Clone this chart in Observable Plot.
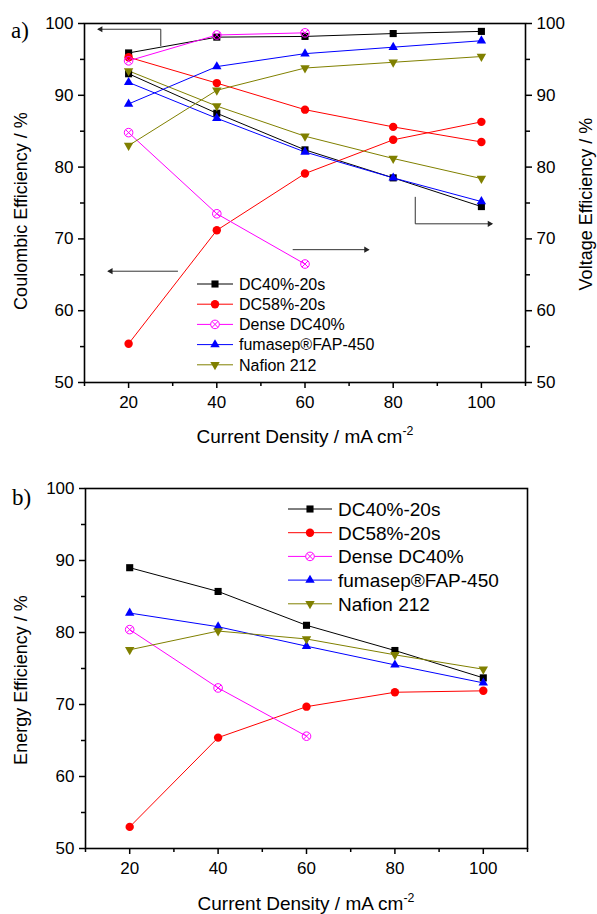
<!DOCTYPE html>
<html><head><meta charset="utf-8">
<script src="https://cdn.jsdelivr.net/npm/d3@7"></script>
<script src="https://cdn.jsdelivr.net/npm/@observablehq/plot@0.6"></script>
<style>
body{margin:0;background:#fff;width:597px;}
#a,#b{width:597px;}
svg{display:block;}
</style></head><body><div id="a"></div><div id="b"></div>
<script>
// ---------------- data ----------------
const currentDensity = [20, 40, 60, 80, 100];
const currentDensityDense = [20, 40, 60];
const seriesNames = ["DC40%-20s", "DC58%-20s", "Dense DC40%", "fumasep®FAP-450", "Nafion 212"];

// Coulombic efficiency (%), left axis of panel a
const ceDC40 = [95.9, 98.1, 98.2, 98.6, 98.9];
const ceDC58 = [55.4, 71.2, 79.1, 83.8, 86.3];
const ceDense = [94.8, 98.4, 98.7];
const ceFAP = [88.8, 94.0, 95.8, 96.7, 97.6];
const ceNafion = [83.0, 90.7, 93.8, 94.6, 95.4];

// Voltage efficiency (%), right axis of panel a
const veDC40 = [93.0, 87.5, 82.4, 78.5, 74.5];
const veDC58 = [95.3, 91.7, 88.0, 85.6, 83.5];
const veDense = [84.8, 73.5, 66.5];
const veFAP = [91.8, 86.8, 82.1, 78.5, 75.2];
const veNafion = [93.4, 88.5, 84.3, 81.2, 78.4];

// Energy efficiency (%), panel b
const eeDC40 = [89.0, 85.7, 81.0, 77.5, 73.7];
const eeDC58 = [53.0, 65.4, 69.7, 71.7, 71.9];
const eeDense = [80.4, 72.3, 65.6];
const eeFAP = [82.7, 80.8, 78.1, 75.5, 73.0];
const eeNafion = [77.6, 80.2, 79.1, 76.9, 74.9];

// tick values
const xMajorTicks = [20, 40, 60, 80, 100];
const xMinorTicks = [10, 30, 50, 70, 90, 110];
const yMajorTicks = [50, 60, 70, 80, 90, 100];
const yMinorTicks = [55, 65, 75, 85, 95];

// annotation arrows of panel a (data units; last point is the arrow tip)
const arrowToCE = [[27.3, 96.9], [27.3, 99.2], [13.2, 99.2]];
const arrowToCE2 = [[31.1, 65.5], [15.5, 65.5]];
const arrowToVE = [[57.3, 68.5], [74.3, 68.5]];
const arrowToVE2 = [[85, 75.8], [85, 72.1], [102.3, 72.1]];

// ---------------- styles ----------------
const styles = {
  "DC40%-20s": {color: "#000000", symbol: "square", r: 4, rotate: 0},
  "DC58%-20s": {color: "#ff0000", symbol: "circle", r: 4.2, rotate: 0},
  "Dense DC40%": {color: "#ff00ff", symbol: "crossed", r: 4.3, rotate: 0},
  "fumasep®FAP-450": {color: "#0000ff", symbol: "triangle", r: 3.5, rotate: 0},
  "Nafion 212": {color: "#808000", symbol: "triangle", r: 3.5, rotate: 180}
};
const FONT = "'Liberation Sans', Arial, Helvetica, sans-serif";

function rows(name, kind, xs, ys) {
  return ys.map((y, i) => ({x: xs[i], y, series: name, kind}));
}
const xsOf = name => name === "Dense DC40%" ? currentDensityDense : currentDensity;

const panelA = [
  ...rows(seriesNames[0], "CE", xsOf(seriesNames[0]), ceDC40),
  ...rows(seriesNames[0], "VE", xsOf(seriesNames[0]), veDC40),
  ...rows(seriesNames[1], "CE", xsOf(seriesNames[1]), ceDC58),
  ...rows(seriesNames[1], "VE", xsOf(seriesNames[1]), veDC58),
  ...rows(seriesNames[2], "CE", xsOf(seriesNames[2]), ceDense),
  ...rows(seriesNames[2], "VE", xsOf(seriesNames[2]), veDense),
  ...rows(seriesNames[3], "CE", xsOf(seriesNames[3]), ceFAP),
  ...rows(seriesNames[3], "VE", xsOf(seriesNames[3]), veFAP),
  ...rows(seriesNames[4], "CE", xsOf(seriesNames[4]), ceNafion),
  ...rows(seriesNames[4], "VE", xsOf(seriesNames[4]), veNafion)
];
const panelB = [
  ...rows(seriesNames[0], "EE", xsOf(seriesNames[0]), eeDC40),
  ...rows(seriesNames[1], "EE", xsOf(seriesNames[1]), eeDC58),
  ...rows(seriesNames[2], "EE", xsOf(seriesNames[2]), eeDense),
  ...rows(seriesNames[3], "EE", xsOf(seriesNames[3]), eeFAP),
  ...rows(seriesNames[4], "EE", xsOf(seriesNames[4]), eeNafion)
];

function seriesMarks(data) {
  const marks = [];
  for (const name of seriesNames) {
    const s = styles[name];
    const d = data.filter(r => r.series === name);
    marks.push(Plot.line(d, {x: "x", y: "y", z: "kind", stroke: s.color, strokeWidth: 1}));
  }
  for (const name of seriesNames) {
    const s = styles[name];
    const d = data.filter(r => r.series === name);
    if (s.symbol === "crossed") {
      marks.push(Plot.dot(d, {x: "x", y: "y", symbol: "circle", r: s.r, stroke: s.color, fill: "none", strokeWidth: 1}));
      marks.push(Plot.dot(d, {x: "x", y: "y", symbol: "times", r: 2.9, stroke: s.color, strokeWidth: 1}));
    } else {
      marks.push(Plot.dot(d, {x: "x", y: "y", symbol: s.symbol, r: s.r, fill: s.color, stroke: "none", rotate: s.rotate}));
    }
  }
  return marks;
}

function arrowMarks(paths) {
  const marks = [];
  paths.forEach((p, k) => {
    const pts = p.map(([x, y]) => ({x, y, k}));
    marks.push(Plot.line(pts, {x: "x", y: "y", stroke: "#333", strokeWidth: 1}));
    const [a, b] = [p[p.length - 2], p[p.length - 1]];
    const dir = b[0] > a[0] ? 90 : -90;
    marks.push(Plot.dot([{x: b[0], y: b[1]}], {x: "x", y: "y", symbol: "triangle", r: 2.3, fill: "#222", rotate: dir, dx: dir > 0 ? -2 : 2}));
  });
  return marks;
}

function axes(rightAxis) {
  const common = {label: null, fontSize: 17, strokeWidth: 1.5};
  const m = [
    Plot.axisX({ticks: xMajorTicks, tickSize: 6, tickPadding: 7, ...common}),
    Plot.axisX({ticks: xMinorTicks, tickSize: 4, tickFormat: () => "", ...common}),
    Plot.axisY({anchor: "left", ticks: yMajorTicks, tickSize: 6, tickPadding: 5, ...common}),
    Plot.axisY({anchor: "left", ticks: yMinorTicks, tickSize: 4, tickFormat: () => "", ...common})
  ];
  if (rightAxis) {
    m.push(Plot.axisY({anchor: "right", ticks: yMajorTicks, tickSize: 6, tickPadding: 5, ...common}));
    m.push(Plot.axisY({anchor: "right", ticks: yMinorTicks, tickSize: 4, tickFormat: () => "", ...common}));
  }
  return m;
}

function legend(svg, x0, y0, step, lineLen, fontSize) {
  const g = svg.append("g").attr("font-family", FONT).attr("font-size", fontSize).attr("text-anchor", "start");
  seriesNames.forEach((name, i) => {
    const s = styles[name];
    const y = y0 + i * step;
    g.append("line").attr("x1", x0).attr("x2", x0 + lineLen).attr("y1", y).attr("y2", y)
      .attr("stroke", s.color).attr("stroke-width", 1);
    const cx = x0 + lineLen / 2;
    if (s.symbol === "crossed") {
      g.append("circle").attr("cx", cx).attr("cy", y).attr("r", s.r).attr("fill", "white").attr("stroke", s.color);
      g.append("path").attr("transform", `translate(${cx},${y})`)
        .attr("d", d3.symbol(d3.symbolTimes, Math.PI * 2.9 * 2.9)()).attr("stroke", s.color).attr("fill", "none");
    } else {
      const type = s.symbol === "square" ? d3.symbolSquare : s.symbol === "circle" ? d3.symbolCircle : d3.symbolTriangle;
      g.append("path").attr("transform", `translate(${cx},${y}) rotate(${s.rotate})`)
        .attr("d", d3.symbol(type, Math.PI * s.r * s.r)()).attr("fill", s.color);
    }
    g.append("text").attr("x", x0 + lineLen + 6).attr("y", y).attr("dy", "0.36em")
      .attr("text-anchor", "start").attr("fill", "black").text(name);
  });
}

function addText(svg, {x, y, text, size = 18, rotate = 0, anchor = "middle", family = FONT, sup = null}) {
  const t = svg.append("text")
    .attr("transform", `translate(${x},${y}) rotate(${rotate})`)
    .attr("text-anchor", anchor).attr("font-family", family).attr("font-size", size).attr("fill", "black");
  t.append("tspan").text(text);
  if (sup) t.append("tspan").attr("dy", -8).attr("font-size", size * 0.65).text(sup);
  return t;
}

// ---------------- panel a ----------------
const plotA = Plot.plot({
  width: 597, height: 460,
  marginLeft: 84, marginRight: 72, marginTop: 23, marginBottom: 78,
  x: {domain: [10, 110], label: null},
  y: {domain: [50, 100], label: null},
  style: {fontFamily: FONT, color: "black", background: "white"},
  marks: [
    ...seriesMarks(panelA),
    ...arrowMarks([arrowToCE, arrowToCE2, arrowToVE, arrowToVE2]),
    ...axes(true),
    Plot.frame({stroke: "black", strokeWidth: 1.6})
  ]
});
document.getElementById("a").appendChild(plotA);
{
  const svg = d3.select(plotA);
  legend(svg, 197, 284, 20.2, 36, 16);
  addText(svg, {x: 305, y: 443, text: "Current Density / mA cm", sup: "-2", size: 19});
  addText(svg, {x: 27, y: 211, text: "Coulombic Efficiency / %", rotate: -90});
  addText(svg, {x: 592, y: 204, text: "Voltage Efficiency / %", rotate: -90});
  addText(svg, {x: 11, y: 38, text: "a)", size: 23, anchor: "start", family: "'Liberation Serif', 'Times New Roman', serif"});
}

// ---------------- panel b ----------------
const plotB = Plot.plot({
  width: 597, height: 454,
  marginLeft: 85, marginRight: 70, marginTop: 28, marginBottom: 66,
  x: {domain: [10, 110], label: null},
  y: {domain: [50, 100], label: null},
  style: {fontFamily: FONT, color: "black", background: "white"},
  marks: [
    ...seriesMarks(panelB),
    ...axes(false),
    Plot.frame({stroke: "black", strokeWidth: 1.6})
  ]
});
document.getElementById("b").appendChild(plotB);
{
  const svg = d3.select(plotB);
  legend(svg, 288, 49, 23.7, 44, 19);
  addText(svg, {x: 306, y: 450, text: "Current Density / mA cm", sup: "-2", size: 19});
  addText(svg, {x: 27, y: 220, text: "Energy Efficiency / %", rotate: -90});
  addText(svg, {x: 12, y: 45, text: "b)", size: 23, anchor: "start", family: "'Liberation Serif', 'Times New Roman', serif"});
}
</script></body></html>
